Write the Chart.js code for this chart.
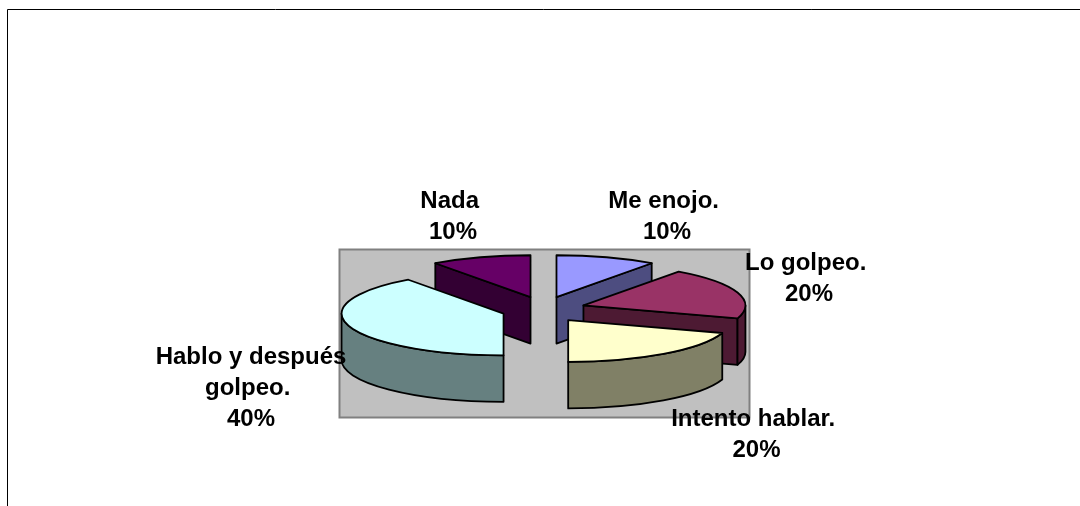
<!DOCTYPE html>
<html>
<head>
<meta charset="utf-8">
<title>Pie chart</title>
<style>
    html, body { margin: 0; padding: 0; background: #fff; overflow: hidden; }
    canvas { display: block; }
</style>
<script src="https://cdn.jsdelivr.net/npm/chart.js@4/dist/chart.umd.js"></script>
</head>
<body>
<canvas id="pieChart" width="1080" height="506"></canvas>
<script>
// Chart data, clockwise from the top of the pie
const categories = [['Me enojo. '], ['Lo golpeo. '], ['Intento hablar. '], ['Hablo y después', 'golpeo. '], ['Nada ']];
const values = [10, 20, 20, 40, 10];
const topColors = ['#9999ff', '#993366', '#ffffcc', '#ccffff', '#660066'];
const wallColors = ['#4d4d80', '#4d1a33', '#808066', '#668080', '#330033'];

// Where the label blocks sit: centre x and first line's y
const labelX = [667, 809, 756.5, 251, 453];
const labelY = [201, 263, 419, 357, 201];

const SQUASH = 0.258;      // vertical flattening of the pie
const DEPTH = 46.5;        // height of the walls
const EXPLODE = 42;        // distance of each slice from the centre
const EXPLODE_Y = 0.312;   // vertical flattening of that distance
const LINE_HEIGHT = 31;

function drawSlice(ctx, arc, index) {
    const { x, y, startAngle, endAngle, outerRadius } = arc.getProps(['x', 'y', 'startAngle', 'endAngle', 'outerRadius'], true);
    const mid = (startAngle + endAngle) / 2;
    const cx = x + Math.cos(mid) * EXPLODE;
    const cy = y + Math.sin(mid) * EXPLODE * EXPLODE_Y;
    const ry = outerRadius * SQUASH;
    const px = a => cx + Math.cos(a) * outerRadius;
    const py = a => cy + Math.sin(a) * ry;

    ctx.save();
    ctx.lineWidth = 1.8;
    ctx.lineJoin = 'round';
    ctx.strokeStyle = '#000';
    ctx.fillStyle = wallColors[index];

    // cut faces that look towards the viewer
    [[startAngle, Math.cos(startAngle) < -0.001], [endAngle, Math.cos(endAngle) > 0.001]].forEach(([a, visible]) => {
        if (!visible) return;
        ctx.beginPath();
        ctx.moveTo(cx, cy);
        ctx.lineTo(px(a), py(a));
        ctx.lineTo(px(a), py(a) + DEPTH);
        ctx.lineTo(cx, cy + DEPTH);
        ctx.closePath();
        ctx.fill();
        ctx.stroke();
    });

    // curved outer wall, front half only
    const from = Math.max(startAngle, 0);
    const to = Math.min(endAngle, Math.PI);
    if (to > from) {
        ctx.beginPath();
        ctx.ellipse(cx, cy, outerRadius, ry, 0, from, to);
        ctx.lineTo(px(to), py(to) + DEPTH);
        ctx.ellipse(cx, cy + DEPTH, outerRadius, ry, 0, to, from, true);
        ctx.closePath();
        ctx.fill();
        ctx.stroke();
    }

    // top face is the library's own arc, flattened
    ctx.save();
    ctx.translate(cx, cy);
    ctx.scale(1, SQUASH);
    ctx.translate(-x, -y);
    arc.draw(ctx);
    ctx.restore();

    ctx.beginPath();
    ctx.moveTo(cx, cy);
    ctx.ellipse(cx, cy, outerRadius, ry, 0, startAngle, endAngle);
    ctx.closePath();
    ctx.stroke();
    ctx.restore();
}

const pie3d = {
    id: 'pie3d',
    beforeDraw(chart) {
        const ctx = chart.ctx;
        ctx.save();
        ctx.fillStyle = '#fff';
        ctx.fillRect(0, 0, chart.width, chart.height);
        // outer chart frame, only top and left are in view
        ctx.strokeStyle = '#000';
        ctx.lineWidth = 1;
        ctx.beginPath();
        ctx.moveTo(7.5, chart.height);
        ctx.lineTo(7.5, 9.5);
        ctx.lineTo(chart.width, 9.5);
        ctx.stroke();
        // plot area
        ctx.fillStyle = '#c0c0c0';
        ctx.strokeStyle = '#808080';
        ctx.lineWidth = 2;
        ctx.fillRect(339.5, 249.5, 410, 168);
        ctx.strokeRect(339.5, 249.5, 410, 168);
        ctx.restore();
    },
    beforeDatasetDraw(chart, args) {
        const arcs = args.meta.data;
        const mids = arcs.map(a => Math.sin((a.startAngle + a.endAngle) / 2));
        // paint back to front
        const order = arcs.map((a, i) => i).sort((p, q) => mids[p] - mids[q]);
        order.forEach(i => drawSlice(chart.ctx, arcs[i], i));
        return false;
    },
    afterDatasetsDraw(chart) {
        const ctx = chart.ctx;
        const total = values.reduce((s, v) => s + v, 0);
        ctx.save();
        ctx.font = 'bold 24px "Liberation Sans", Arial, sans-serif';
        ctx.fillStyle = '#000';
        ctx.textAlign = 'center';
        ctx.textBaseline = 'middle';
        categories.forEach((lines, i) => {
            const all = lines.concat(Math.round(values[i] / total * 100) + '%');
            all.forEach((line, n) => ctx.fillText(line, labelX[i], labelY[i] + n * LINE_HEIGHT));
        });
        ctx.restore();
    }
};

new Chart(document.getElementById('pieChart'), {
    type: 'pie',
    data: {
        labels: categories.map(c => c.join(' ').trim()),
        datasets: [{
            data: values,
            backgroundColor: topColors,
            borderWidth: 0,
            radius: 162
        }]
    },
    options: {
        responsive: false,
        animation: false,
        layout: { padding: { left: 7, top: 113 } },
        plugins: { legend: { display: false }, tooltip: { enabled: false } }
    },
    plugins: [pie3d]
});
</script>
</body>
</html>
